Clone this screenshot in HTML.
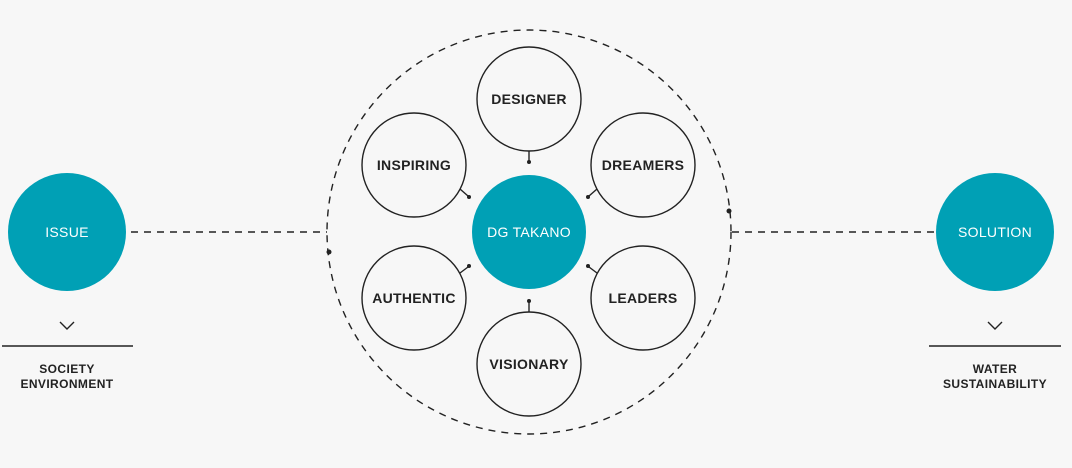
<!DOCTYPE html>
<html><head><style>
body{margin:0;background:#f7f7f7;}
svg{display:block;font-family:"Liberation Sans",sans-serif;}
.s{font-size:14px;font-weight:bold;fill:#222;text-anchor:middle;letter-spacing:0.3px}
.w{font-size:14px;fill:#fff;text-anchor:middle;letter-spacing:0.3px}
.t{font-size:12px;font-weight:bold;fill:#222;text-anchor:middle;letter-spacing:0.4px}
</style></head><body>
<svg width="1072" height="468" viewBox="0 0 1072 468">
<g fill="none" stroke="#222" stroke-width="1.4" stroke-dasharray="7,6">
<circle cx="529" cy="232" r="202"/>
<line x1="131" y1="232" x2="327" y2="232"/>
<line x1="732" y1="232" x2="935" y2="232"/>
</g>
<circle cx="329" cy="252" r="2.5" fill="#222"/>
<circle cx="729" cy="211" r="2.5" fill="#222"/>
<circle cx="67" cy="232" r="59" fill="#00a0b5"/>
<circle cx="995" cy="232" r="59" fill="#00a0b5"/>
<circle cx="529" cy="232" r="57" fill="#00a0b5"/>
<text class="w" x="67" y="237">ISSUE</text>
<text class="w" x="995" y="237">SOLUTION</text>
<text class="w" x="529" y="237">DG TAKANO</text>
<g fill="none" stroke="#222" stroke-width="1.4">
<circle cx="529" cy="99" r="52"/>
<circle cx="643" cy="165" r="52"/>
<circle cx="643" cy="298" r="52"/>
<circle cx="529" cy="364" r="52"/>
<circle cx="414" cy="298" r="52"/>
<circle cx="414" cy="165" r="52"/>
<line x1="529" y1="151" x2="529" y2="161"/>
<line x1="529" y1="312" x2="529" y2="302"/>
<line x1="460" y1="189" x2="468" y2="196"/>
<line x1="460" y1="273" x2="468" y2="267"/>
<line x1="597" y1="189" x2="589" y2="196"/>
<line x1="597" y1="273" x2="589" y2="267"/>
<polyline points="60,322 67,329 74,322"/>
<polyline points="988,322 995,329 1002,322"/>
</g>
<g fill="#222">
<circle cx="529" cy="162" r="2"/><circle cx="529" cy="301" r="2"/>
<circle cx="469" cy="197" r="2"/><circle cx="469" cy="266" r="2"/>
<circle cx="588" cy="197" r="2"/><circle cx="588" cy="266" r="2"/>
</g>
<line x1="2" y1="346" x2="133" y2="346" stroke="#222" stroke-width="1.4"/>
<line x1="929" y1="346" x2="1061" y2="346" stroke="#222" stroke-width="1.4"/>
<text class="s" x="529" y="104">DESIGNER</text>
<text class="s" x="643" y="170">DREAMERS</text>
<text class="s" x="643" y="303">LEADERS</text>
<text class="s" x="529" y="369">VISIONARY</text>
<text class="s" x="414" y="303">AUTHENTIC</text>
<text class="s" x="414" y="170">INSPIRING</text>
<text class="t" x="67" y="373">SOCIETY</text>
<text class="t" x="67" y="388">ENVIRONMENT</text>
<text class="t" x="995" y="373">WATER</text>
<text class="t" x="995" y="388">SUSTAINABILITY</text>
</svg>
</body></html>
